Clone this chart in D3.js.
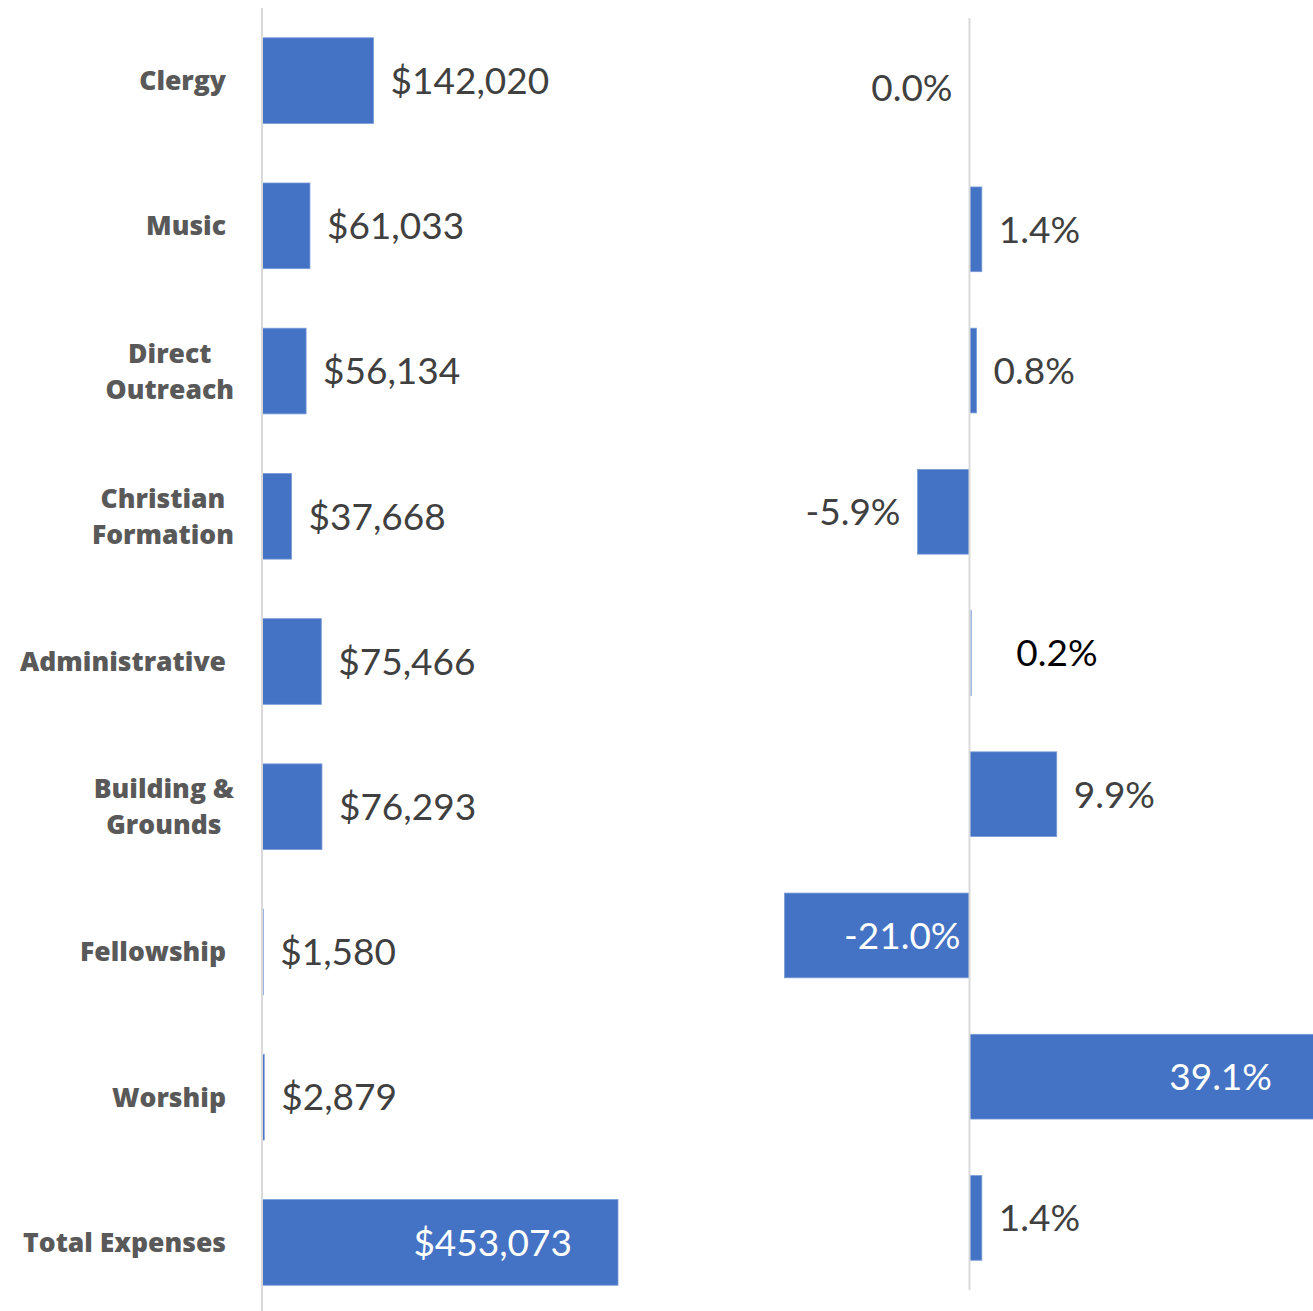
<!DOCTYPE html>
<html>
<head>
<meta charset="utf-8">
<script src="https://cdn.jsdelivr.net/npm/d3@7"></script>
<style>
  body { margin: 0; background: #fff; }
  text { font-family: Lato, "Open Sans", sans-serif; }
  text.catlab { font-family: "Open Sans", Lato, sans-serif; }
</style>
</head>
<body>
<div id="chart"></div>
<script>
// data
let categories = ["Clergy", "Music", "Direct\nOutreach", "Christian\nFormation", "Administrative",
    "Building &\nGrounds", "Fellowship", "Worship", "Total Expenses"];
let expenses = [142020, 61033, 56134, 37668, 75466, 76293, 1580, 2879, 453073];
let changePct = [0.0, 1.4, 0.8, -5.9, 0.2, 9.9, -21.0, 39.1, 1.4];

let width = 1313, height = 1311;
let barColor = "#4472C4";
let textColor = "#404040";

let svg = d3.select("#chart")
    .append("svg")
    .attr("width", width)
    .attr("height", height);

// ---- left panel: dollars ----
let xLeft = d3.scaleLinear()
    .domain([0, 453073])
    .range([262, 618]);

let yLeft = d3.scaleBand()
    .domain(categories)
    .range([8, 1315])
    .paddingInner(0.41)
    .paddingOuter(0.205);

let fmtDollar = d3.format("$,.0f");

let left = svg.append("g");

left.selectAll("rect")
    .data(expenses)
    .enter()
    .append("rect")
    .attr("x", xLeft(0))
    .attr("y", (d, i) => yLeft(categories[i]))
    .attr("width", d => xLeft(d) - xLeft(0))
    .attr("height", yLeft.bandwidth())
    .attr("fill", barColor)
    .attr("stroke", "#7a9bd6")
    .attr("stroke-width", 0.8);

left.append("line")
    .attr("x1", xLeft(0)).attr("x2", xLeft(0))
    .attr("y1", 8).attr("y2", height)
    .attr("stroke", "#d9d9d9")
    .attr("stroke-width", 2);

left.selectAll("text.val")
    .data(expenses)
    .enter()
    .append("text")
    .attr("class", "val")
    .attr("x", d => (xLeft(d) - xLeft(0) > 150) ? xLeft(d) - 46 : xLeft(d) + 17)
    .attr("y", (d, i) => yLeft(categories[i]) + yLeft.bandwidth() / 2)
    .attr("dy", "0.36em")
    .attr("text-anchor", d => (xLeft(d) - xLeft(0) > 150) ? "end" : "start")
    .attr("fill", d => (xLeft(d) - xLeft(0) > 150) ? "#fff" : textColor)
    .attr("font-size", 37)
    .text(d => fmtDollar(d));

// category labels (lines centred inside a right-aligned block)
let catG = left.selectAll("g.cat")
    .data(categories)
    .enter()
    .append("g")
    .attr("class", "cat");

catG.each(function (d) {
    let g = d3.select(this);
    let lines = d.split("\n");
    let cy = yLeft(d) + yLeft.bandwidth() / 2;
    let t = g.selectAll("text")
        .data(lines)
        .enter()
        .append("text")
        .attr("class", "catlab")
        .attr("y", (l, j) => cy + (j - (lines.length - 1) / 2) * 36)
        .attr("dy", "0.36em")
        .attr("font-size", 26.5)
        .attr("font-weight", 800)
        .attr("fill", "#595959")
        .text(l => l);
    if (lines.length === 1) {
        t.attr("x", 226).attr("text-anchor", "end");
    } else {
        let w = d3.max(t.nodes(), n => n.getComputedTextLength());
        t.attr("x", 234 - w / 2).attr("text-anchor", "middle");
    }
});

// ---- right panel: percent change ----
let xRight = d3.scaleLinear()
    .domain([0, 39.1])
    .range([969.5, 1314]);

let yRight = d3.scaleBand()
    .domain(categories)
    .range([17.5, 1288.5])
    .paddingInner(0.4)
    .paddingOuter(0.2);

let fmtPct = d => d3.format(".1f")(d).replace("−", "-") + "%";

let right = svg.append("g");

right.selectAll("rect")
    .data(changePct)
    .enter()
    .append("rect")
    .attr("x", d => Math.min(xRight(0), xRight(d)))
    .attr("y", (d, i) => yRight(categories[i]))
    .attr("width", d => Math.abs(xRight(d) - xRight(0)))
    .attr("height", yRight.bandwidth())
    .attr("fill", d => Math.abs(d) < 0.5 ? "#b4c7e7" : barColor)
    .attr("stroke", d => d === 0 ? "none" : "#7a9bd6")
    .attr("stroke-width", 0.8);

right.append("line")
    .attr("x1", xRight(0)).attr("x2", xRight(0))
    .attr("y1", 18).attr("y2", 1290)
    .attr("stroke", "#d9d9d9")
    .attr("stroke-width", 2);

right.selectAll("text.val")
    .data(changePct)
    .enter()
    .append("text")
    .attr("class", "val")
    .attr("x", function (d) {
        let w = Math.abs(xRight(d) - xRight(0));
        if (w > 150) return d < 0 ? xRight(0) - 9 : xRight(d) - 42;
        if (d <= 0) return xRight(d) - 17;
        if (d < 0.5) return xRight(d) + 45;   // manually nudged label
        return xRight(d) + 17;
    })
    .attr("y", (d, i) => yRight(categories[i]) + yRight.bandwidth() / 2)
    .attr("dy", "0.36em")
    .attr("text-anchor", function (d) {
        let w = Math.abs(xRight(d) - xRight(0));
        if (w > 150) return "end";
        return d <= 0 ? "end" : "start";
    })
    .attr("fill", function (d) {
        if (Math.abs(xRight(d) - xRight(0)) > 150) return "#fff";
        return (d > 0 && d < 0.5) ? "#000" : textColor;
    })
    .attr("font-size", 37)
    .text(d => fmtPct(d));
</script>
</body>
</html>
